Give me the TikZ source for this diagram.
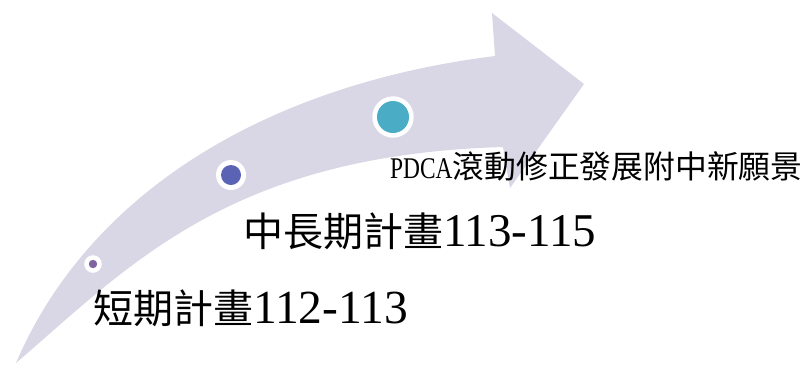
\documentclass[tikz,border=0pt]{standalone}
\usepackage{fontspec}
\usepackage{graphicx}
\setmainfont{Liberation Serif}
\newfontfamily\latinserif{Liberation Serif}
\newfontfamily\cjk{Noto Sans CJK TC}
\definecolor{arrowfill}{RGB}{217,214,230}
\definecolor{dotpurple}{RGB}{128,100,162}
\definecolor{dotblue}{RGB}{90,99,180}
\definecolor{dotteal}{RGB}{75,172,198}
\tikzset{
  ring/.style={circle, fill=white, inner sep=0pt},
  dotc/.style={circle, inner sep=0pt},
  bigtext/.style={anchor=base west, inner sep=0pt, text=black},
}
\begin{document}
\begin{tikzpicture}[x=1pt, y=-1pt]
\useasboundingbox (0,0) rectangle (805,365);
% curved arrow
\fill[arrowfill] (16,363) .. controls (90,190) and (270,84) .. (495,56)
  -- (492,13) -- (584,84) -- (510,188) -- (503,147)
  .. controls (230,155) and (130,265) .. (16,363) -- cycle;
% dots
\node[ring, minimum size=17.6pt] (r1) at (93,264) {};
\node[dotc, fill=dotpurple, minimum size=8.4pt] (d1) at (r1) {};
\node[ring, minimum size=30pt] (r2) at (231,175) {};
\node[dotc, fill=dotblue, minimum size=20pt] (d2) at (r2) {};
\node[ring, minimum size=41.4pt] (r3) at (393,117) {};
\node[dotc, fill=dotteal, minimum size=32pt] (d3) at (r3) {};
% texts
\node[bigtext] (t1) at (93,323) {{\cjk\fontsize{40}{40}\selectfont 短期計畫}{\latinserif\fontsize{47.5}{47.5}\selectfont 112-113}};
\node[bigtext] (t2) at (243,246) {{\cjk\fontsize{40}{40}\selectfont 中長期計畫}{\latinserif\fontsize{47}{47}\selectfont 113-115}};
\node[bigtext] (t3) at (390,178) {{\latinserif\fontsize{30}{30}\selectfont\scalebox{0.78}[1]{PDCA}}{\cjk\fontsize{31.8}{31.8}\selectfont 滾動修正發展附中新願景}};
\end{tikzpicture}
\end{document}
